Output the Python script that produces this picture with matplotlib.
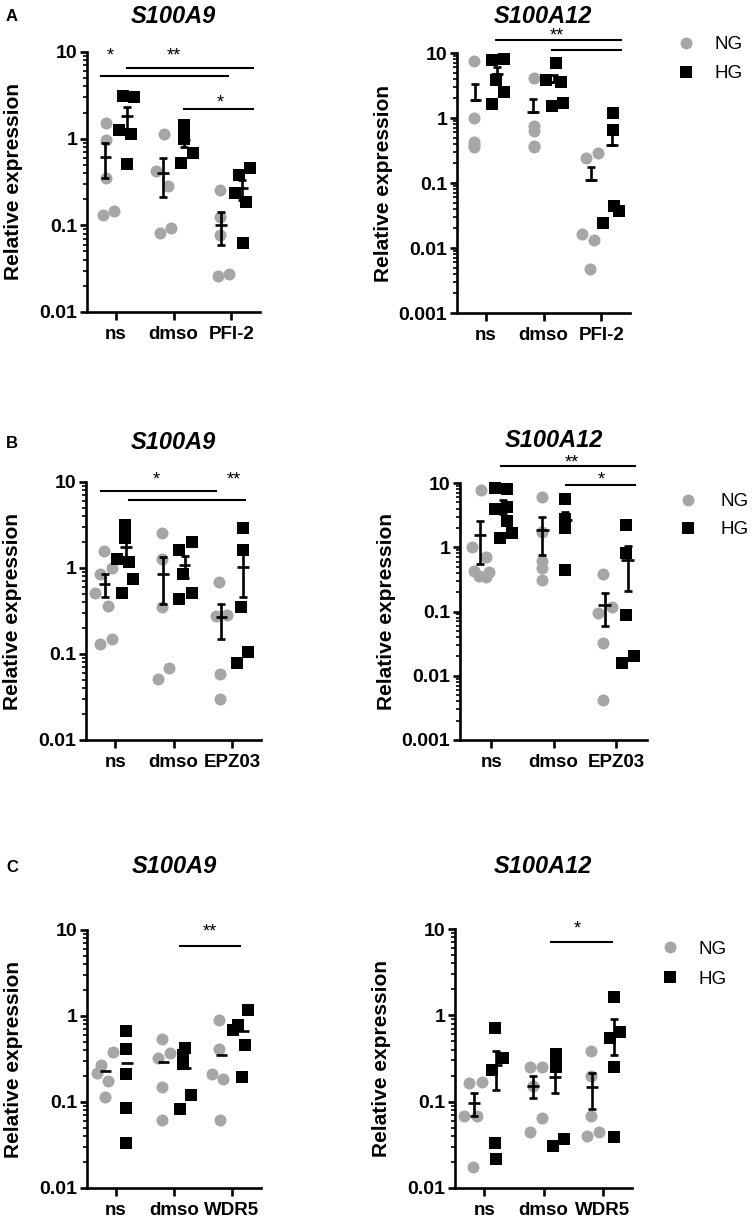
import numpy as np
import matplotlib
matplotlib.use('Agg')
import matplotlib.pyplot as plt
from matplotlib.ticker import LogLocator, NullFormatter, FuncFormatter
from matplotlib.lines import Line2D

plt.rcParams['font.family'] = ['Liberation Sans', 'DejaVu Sans']
plt.rcParams['font.weight'] = 'bold'
plt.rcParams['axes.labelweight'] = 'bold'

W, H = 752, 1217
GRAY = '#a6a6a6'

labels_a = ['ns', 'dmso', 'PFI-2']
labels_b = ['ns', 'dmso', 'EPZ03']
labels_c = ['ns', 'dmso', 'WDR5']

# ---------- A: S100A9 (groups ns, dmso, PFI-2)
a9_pfi_ng = [[1.51, 0.97, 0.35, 0.13, 0.145],
             [1.12, 0.42, 0.286, 0.081, 0.094],
             [0.253, 0.126, 0.077, 0.026, 0.0275]]
a9_pfi_hg = [[3.1, 3.05, 1.25, 1.14, 0.51],
             [1.45, 1.2, 1.0, 0.53, 0.68],
             [0.46, 0.385, 0.235, 0.188, 0.063]]
# horizontal spread of the dots
a9_pfi_ng_dx = [[-0.17, -0.17, -0.17, -0.23, -0.03],
                [-0.16, -0.31, -0.10, -0.23, -0.04],
                [-0.19, -0.19, -0.19, -0.23, -0.03]]
a9_pfi_hg_dx = [[0.12, 0.32, 0.06, 0.26, 0.20],
                [0.19, 0.19, 0.19, 0.13, 0.34],
                [0.32, 0.14, 0.06, 0.26, 0.20]]
a9_pfi_lines = [(-0.26, 1.95, 5.3), (0.19, 2.38, 6.5), (1.18, 2.38, 2.2)]
a9_pfi_stars = [(-0.09, 7.9, '*'), (1.0, 7.9, '**'), (1.81, 2.3, '*')]

# ---------- A: S100A12
a12_pfi_ng = [[7.4, 1.0, 0.42, 0.38, 0.36],
              [4.1, 0.74, 0.62, 0.376, 0.36],
              [0.24, 0.287, 0.0167, 0.0135, 0.0048]]
a12_pfi_hg = [[7.9, 8.1, 3.88, 2.47, 1.63],
              [7.0, 3.9, 3.6, 1.55, 1.7],
              [1.19, 0.66, 0.044, 0.037, 0.0245]]
a12_pfi_ng_dx = [[-0.2, -0.2, -0.2, -0.2, -0.2],
                 [-0.17, -0.17, -0.17, -0.17, -0.17],
                 [-0.26, -0.06, -0.34, -0.12, -0.19]]
a12_pfi_hg_dx = [[0.11, 0.31, 0.17, 0.31, 0.11],
                 [0.21, 0.05, 0.30, 0.15, 0.34],
                 [0.2, 0.2, 0.23, 0.31, 0.03]]
a12_pfi_lines = [(0.17, 2.35, 15.6), (1.15, 2.35, 11.2)]
a12_pfi_stars = [(1.23, 15.6, '**')]

# ---------- B: S100A9 (groups ns, dmso, EPZ03)
a9_epz_ng = [[1.57, 0.86, 0.99, 0.515, 0.36, 0.129, 0.148],
             [2.58, 1.26, 0.348, 0.0508, 0.069],
             [0.69, 0.276, 0.285, 0.058, 0.030]]
a9_epz_hg = [[3.2, 3.0, 2.26, 1.26, 1.16, 0.736, 0.515],
             [1.61, 2.01, 0.86, 0.435, 0.515],
             [2.95, 1.61, 0.355, 0.078, 0.106]]
a9_epz_ng_dx = [[-0.19, -0.26, -0.06, -0.34, -0.13, -0.26, -0.06],
                [-0.2, -0.2, -0.2, -0.26, -0.07],
                [-0.22, -0.28, -0.08, -0.21, -0.21]]
a9_epz_hg_dx = [[0.17, 0.17, 0.17, 0.04, 0.24, 0.30, 0.12],
                [0.10, 0.31, 0.16, 0.10, 0.31],
                [0.19, 0.19, 0.15, 0.09, 0.28]]
a9_epz_lines = [(-0.24, 1.72, 7.87), (0.24, 2.22, 6.13)]
a9_epz_stars = [(0.71, 9.4, '*'), (2.03, 9.4, '**')]

# ---------- B: S100A12
a12_epz_ng = [[7.7, 1.02, 0.71, 0.42, 0.36, 0.35, 0.41],
              [6.1, 1.7, 0.62, 0.47, 0.31],
              [0.39, 0.094, 0.116, 0.032, 0.0042]]
a12_epz_hg = [[8.5, 8.2, 3.9, 4.3, 2.6, 1.4, 1.65],
              [5.7, 2.8, 2.4, 2.0, 0.45],
              [2.2, 0.82, 0.088, 0.016, 0.02]]
a12_epz_ng_dx = [[-0.17, -0.31, -0.09, -0.28, -0.2, -0.09, -0.04],
                 [-0.18, -0.18, -0.18, -0.18, -0.18],
                 [-0.2, -0.29, -0.06, -0.2, -0.2]]
a12_epz_hg_dx = [[0.06, 0.26, 0.06, 0.26, 0.26, 0.14, 0.34],
                 [0.19, 0.19, 0.19, 0.19, 0.19],
                 [0.16, 0.16, 0.16, 0.10, 0.29]]
a12_epz_lines = [(0.15, 2.31, 18.2), (1.2, 2.31, 9.2)]
a12_epz_stars = [(1.3, 17.6, '**'), (1.77, 9.5, '*')]

# ---------- C: S100A9 (groups ns, dmso, WDR5)
a9_wdr_ng = [[0.27, 0.22, 0.38, 0.176, 0.114],
             [0.537, 0.376, 0.329, 0.15, 0.061],
             [0.89, 0.41, 0.21, 0.184, 0.062]]
a9_wdr_hg = [[0.67, 0.41, 0.214, 0.086, 0.033],
             [0.42, 0.35, 0.28, 0.082, 0.12],
             [1.19, 0.78, 0.68, 0.457, 0.195]]
a9_wdr_ng_dx = [[-0.26, -0.33, -0.06, -0.13, -0.19],
                [-0.2, -0.07, -0.27, -0.2, -0.2],
                [-0.22, -0.22, -0.35, -0.15, -0.21]]
a9_wdr_hg_dx = [[0.17, 0.17, 0.17, 0.17, 0.17],
                [0.19, 0.16, 0.16, 0.10, 0.30],
                [0.28, 0.11, 0.02, 0.22, 0.17]]
a9_wdr_lines = [(1.1, 2.14, 6.5)]
a9_wdr_stars = [(1.62, 8.3, '**')]

# ---------- C: S100A12
a12_wdr_ng = [[0.163, 0.171, 0.068, 0.068, 0.0176],
              [0.255, 0.255, 0.15, 0.065, 0.044],
              [0.387, 0.2, 0.069, 0.04, 0.045]]
a12_wdr_hg = [[0.71, 0.318, 0.233, 0.0334, 0.0215],
              [0.36, 0.30, 0.25, 0.031, 0.037],
              [1.65, 0.64, 0.55, 0.255, 0.039]]
a12_wdr_ng_dx = [[-0.26, -0.05, -0.34, -0.13, -0.19],
                 [-0.23, -0.02, -0.17, -0.02, -0.23],
                 [-0.2, -0.2, -0.2, -0.26, -0.06]]
a12_wdr_hg_dx = [[0.17, 0.31, 0.12, 0.17, 0.19],
                 [0.21, 0.21, 0.21, 0.16, 0.35],
                 [0.19, 0.3, 0.13, 0.19, 0.19]]
a12_wdr_lines = [(1.13, 2.16, 7.0)]
a12_wdr_stars = [(1.57, 8.8, '*')]

fig = plt.figure(figsize=(W / 100, H / 100), dpi=100)


def panel(box, ng, hg, ng_dx, hg_dx, labels, ylim, bars, lines, stars):
    x0, y0, x1, y1 = box
    ax = fig.add_axes([x0 / W, 1 - y1 / H, (x1 - x0) / W, (y1 - y0) / H])
    ax.set_yscale('log')
    ax.set_ylim(*ylim)
    ax.set_xlim(-0.5, 2.5)
    for i in range(3):
        ax.scatter(i + np.array(ng_dx[i]), ng[i], s=75, marker='o',
                   color=GRAY, lw=0, zorder=2, clip_on=False)
        ax.scatter(i + np.array(hg_dx[i]), hg[i], s=84, marker='s',
                   color='black', lw=0, zorder=2, clip_on=False)
        for vals, off in ((ng[i], -0.18), (hg[i], 0.19)):
            m = np.mean(vals)
            sem = np.std(vals, ddof=1) / np.sqrt(len(vals))
            ax.hlines(m, i + off - 0.1, i + off + 0.1, color='black',
                      lw=1.9, zorder=4)
            if bars == 'both':
                ax.errorbar(i + off, m, yerr=sem, fmt='none', ecolor='black',
                            elinewidth=1.9, capsize=3, capthick=1.9, zorder=4)
            elif bars == 'up':
                ax.errorbar(i + off, m, yerr=[[0], [sem]], fmt='none',
                            ecolor='black', elinewidth=1.9, capsize=3,
                            capthick=1.9, zorder=4)
    for xa, xb, y in lines:
        ax.plot([xa, xb], [y, y], color='black', lw=1.5, clip_on=False)
    for x, y, s in stars:
        ax.text(x, y, s, ha='center', va='baseline', fontsize=13,
                fontweight='normal', clip_on=False)

    for side in ['top', 'right']:
        ax.spines[side].set_visible(False)
    for side in ['left', 'bottom']:
        ax.spines[side].set_linewidth(1.9)
    ax.yaxis.set_major_locator(LogLocator(base=10, numticks=10))
    ax.yaxis.set_minor_locator(LogLocator(base=10, subs=np.arange(2, 10), numticks=20))
    ax.yaxis.set_minor_formatter(NullFormatter())
    ax.yaxis.set_major_formatter(FuncFormatter(lambda v, p: f'{v:g}'))
    ax.tick_params(axis='y', which='major', direction='out', length=5,
                   width=1.9, labelsize=14, pad=2)
    ax.tick_params(axis='y', which='minor', direction='out', length=3, width=1.2)
    ax.set_xticks([0, 1, 2])
    ax.set_xticklabels(labels)
    ax.tick_params(axis='x', direction='out', length=6, width=1.9,
                   labelsize=13.5, pad=4)
    ax.set_ylabel('Relative expression', fontsize=15)
    ax.yaxis.set_label_coords(-64 / (x1 - x0), 0.5)
    return ax


panel((87, 52, 260, 312), a9_pfi_ng, a9_pfi_hg, a9_pfi_ng_dx, a9_pfi_hg_dx,
      labels_a, (0.01, 10), 'both', a9_pfi_lines, a9_pfi_stars)
panel((457, 53, 630, 313), a12_pfi_ng, a12_pfi_hg, a12_pfi_ng_dx, a12_pfi_hg_dx,
      labels_a, (0.001, 10), 'up', a12_pfi_lines, a12_pfi_stars)
panel((86, 482, 261, 740), a9_epz_ng, a9_epz_hg, a9_epz_ng_dx, a9_epz_hg_dx,
      labels_b, (0.01, 10), 'both', a9_epz_lines, a9_epz_stars)
panel((460, 483, 647, 740), a12_epz_ng, a12_epz_hg, a12_epz_ng_dx, a12_epz_hg_dx,
      labels_b, (0.001, 10), 'both', a12_epz_lines, a12_epz_stars)
panel((87, 930, 261, 1188), a9_wdr_ng, a9_wdr_hg, a9_wdr_ng_dx, a9_wdr_hg_dx,
      labels_c, (0.01, 10), 'none', a9_wdr_lines, a9_wdr_stars)
panel((455, 929, 632, 1188), a12_wdr_ng, a12_wdr_hg, a12_wdr_ng_dx, a12_wdr_hg_dx,
      labels_c, (0.01, 10), 'both', a12_wdr_lines, a12_wdr_stars)

# titles (gene names), baselines in pixels
for x, y, t in [(173, 23, 'S100A9'), (543, 23, 'S100A12'),
                (173, 449, 'S100A9'), (554, 447, 'S100A12'),
                (174, 873, 'S100A9'), (543, 873, 'S100A12')]:
    fig.text(x / W, 1 - y / H, t, ha='center', va='baseline', fontsize=17,
             fontstyle='italic', fontweight='bold')

# panel letters
for y, t in [(21, 'A'), (448, 'B'), (872, 'C')]:
    fig.text(6 / W, 1 - y / H, t, ha='left', va='baseline', fontsize=12,
             fontweight='bold')

# legends
for mx, tx, y_ng, y_hg in [(686, 715, 42.5, 72), (688, 720, 500, 528),
                           (670, 698, 947, 977)]:
    fig.add_artist(Line2D([mx / W], [1 - y_ng / H], marker='o', ms=8.6,
                          color=GRAY, ls='none', mew=0, transform=fig.transFigure))
    fig.add_artist(Line2D([mx / W], [1 - y_hg / H], marker='s', ms=9,
                          color='black', ls='none', mew=0, transform=fig.transFigure))
    fig.text(tx / W, 1 - (y_ng + 6.5) / H, 'NG', ha='left', va='baseline',
             fontsize=13.5, fontweight='normal')
    fig.text(tx / W, 1 - (y_hg + 6.5) / H, 'HG', ha='left', va='baseline',
             fontsize=13.5, fontweight='normal')

fig.savefig('out.png', dpi=100)
